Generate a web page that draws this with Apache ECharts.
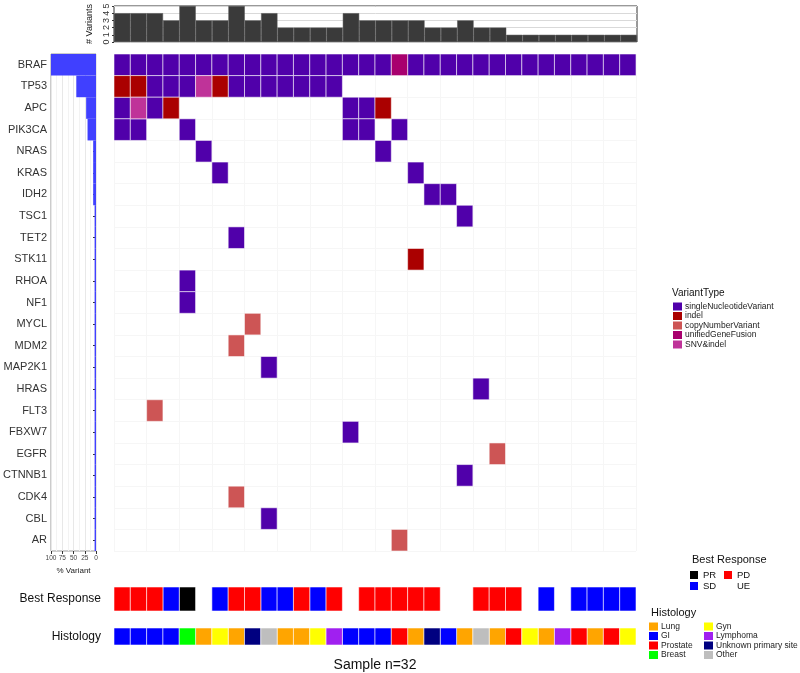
<!DOCTYPE html>
<html>
<head>
<meta charset="utf-8">
<script src="https://cdn.jsdelivr.net/npm/echarts@6/dist/echarts.min.js"></script>
<style>
  html, body { margin: 0; padding: 0; background: #fff; }
  #main { width: 800px; height: 673px; }
</style>
</head>
<body>
<div id="main"></div>
<script>
// genes, top to bottom
var genes = ['BRAF', 'TP53', 'APC', 'PIK3CA', 'NRAS', 'KRAS', 'IDH2', 'TSC1', 'TET2', 'STK11', 'RHOA', 'NF1',
    'MYCL', 'MDM2', 'MAP2K1', 'HRAS', 'FLT3', 'FBXW7', 'EGFR', 'CTNNB1', 'CDK4', 'CBL', 'AR'];

var variantTypes = ['singleNucleotideVariant', 'indel', 'copyNumberVariant', 'unifiedGeneFusion', 'SNV&indel'];
var variantCodes = ['s', 'i', 'c', 'f', 'x'];
var variantColors = ['#5000AA', '#AA0000', '#CD5555', '#A8006E', '#BF3399'];

// one string per gene, one char per sample (32), groups of 8
var geneRows = [
    'ssssssss ssssssss sfssssss ssssssss', // BRAF
    'iisssxis ssssss.. ........ ........', // TP53
    'sxsi.... ......ss i....... ........', // APC
    'ss..s... ......ss .s...... ........', // PIK3CA
    '.....s.. ........ s....... ........', // NRAS
    '......s. ........ ..s..... ........', // KRAS
    '........ ........ ...ss... ........', // IDH2
    '........ ........ .....s.. ........', // TSC1
    '.......s ........ ........ ........', // TET2
    '........ ........ ..i..... ........', // STK11
    '....s... ........ ........ ........', // RHOA
    '....s... ........ ........ ........', // NF1
    '........ c....... ........ ........', // MYCL
    '.......c ........ ........ ........', // MDM2
    '........ .s...... ........ ........', // MAP2K1
    '........ ........ ......s. ........', // HRAS
    '..c..... ........ ........ ........', // FLT3
    '........ ......s. ........ ........', // FBXW7
    '........ ........ .......c ........', // EGFR
    '........ ........ .....s.. ........', // CTNNB1
    '.......c ........ ........ ........', // CDK4
    '........ .s...... ........ ........', // CBL
    '........ ........ .c...... ........'  // AR
];

var responses = ['PR', 'SD', 'PD', 'UE'];
var responseColors = ['#000000', '#0000FF', '#FF0000', 'rgba(0,0,0,0)'];
var bestResponse = ['PD', 'PD', 'PD', 'SD', 'PR', 'UE', 'SD', 'PD', 'PD', 'SD', 'SD', 'PD', 'SD', 'PD', 'UE', 'PD',
    'PD', 'PD', 'PD', 'PD', 'UE', 'UE', 'PD', 'PD', 'PD', 'UE', 'SD', 'UE', 'SD', 'SD', 'SD', 'SD'];

var histologies = ['Lung', 'GI', 'Prostate', 'Breast', 'Gyn', 'Lymphoma', 'Unknown primary site', 'Other'];
var histologyColors = ['#FFA500', '#0000FF', '#FF0000', '#00FF00', '#FFFF00', '#A020F0', '#000080', '#BEBEBE'];
var histology = ['GI', 'GI', 'GI', 'GI', 'Breast', 'Lung', 'Gyn', 'Lung', 'Unknown primary site', 'Other', 'Lung',
    'Lung', 'Gyn', 'Lymphoma', 'GI', 'GI', 'GI', 'Prostate', 'Lung', 'Unknown primary site', 'GI', 'Lung', 'Other',
    'Lung', 'Prostate', 'Gyn', 'Lung', 'Lymphoma', 'Prostate', 'Lung', 'Prostate', 'Gyn'];

var nSamples = bestResponse.length;
var sampleIds = bestResponse.map(function (d, i) { return 'S' + (i + 1); });

// cells per variant type, counts per sample and per gene
var cells = variantTypes.map(function () { return []; });
var perSample = sampleIds.map(function () { return 0; });
var perGene = genes.map(function () { return 0; });
geneRows.forEach(function (row, g) {
    row.replace(/ /g, '').split('').forEach(function (ch, j) {
        var t = variantCodes.indexOf(ch);
        if (t >= 0) {
            cells[t].push([j, g]);
            perSample[j]++;
            perGene[g]++;
        }
    });
});
var pctVariant = perGene.map(function (c) { return +(c / nSamples * 100).toFixed(1); });

var chart = echarts.init(document.getElementById('main'));

var FONT = 'Liberation Sans, Arial, sans-serif';
var GX = 114, GW = 522;

function cellRender(params, api) {
    var p = api.coord([api.value(0), api.value(1)]);
    var s = api.size([1, 1]);
    return {
        type: 'rect',
        shape: { x: p[0] - s[0] / 2, y: p[1] - s[1] / 2, width: s[0], height: s[1] },
        style: { fill: api.visual('color'), stroke: 'rgba(255,255,255,0.55)', lineWidth: 1 }
    };
}

var series = [];
variantTypes.forEach(function (name, t) {
    series.push({
        name: name, type: 'custom', xAxisIndex: 0, yAxisIndex: 0,
        itemStyle: { color: variantColors[t] },
        renderItem: cellRender, encode: { x: 0, y: 1 }, data: cells[t]
    });
});
responses.forEach(function (name, k) {
    var d = [];
    bestResponse.forEach(function (r, j) { if (r === name && name !== 'UE') d.push([j, 0]); });
    series.push({
        name: name, type: 'custom', xAxisIndex: 1, yAxisIndex: 1,
        itemStyle: { color: responseColors[k] },
        renderItem: cellRender, encode: { x: 0, y: 1 }, data: d
    });
});
histologies.forEach(function (name, k) {
    var d = [];
    histology.forEach(function (h, j) { if (h === name) d.push([j, 0]); });
    series.push({
        name: name, type: 'custom', xAxisIndex: 2, yAxisIndex: 2,
        itemStyle: { color: histologyColors[k] },
        renderItem: cellRender, encode: { x: 0, y: 1 }, data: d
    });
});
series.push({
    type: 'bar', xAxisIndex: 3, yAxisIndex: 3, barWidth: '100%', data: perSample,
    itemStyle: { color: '#3a3a3a', borderColor: '#555', borderWidth: 0.5 }
});
series.push({
    type: 'bar', xAxisIndex: 4, yAxisIndex: 4, barWidth: '100%', data: pctVariant,
    itemStyle: { color: '#4040FF' }
});

var hiddenCat = function (grid, data) {
    return {
        type: 'category', gridIndex: grid, data: data,
        axisLine: { show: false }, axisTick: { show: false }, axisLabel: { show: false }
    };
};

var legendBase = {
    orient: 'vertical', icon: 'rect', itemWidth: 9, itemHeight: 8, itemGap: 0.5,
    textStyle: { fontSize: 8.5, color: '#222', fontFamily: FONT, padding: [0, 0, 0, -2] },
    selectedMode: false
};

var option = {
    animation: false,
    backgroundColor: '#fff',
    textStyle: { fontFamily: FONT },
    title: [
        { text: 'VariantType', left: 667, top: 283, textStyle: { fontSize: 10, fontWeight: 'normal', color: '#111' } },
        { text: 'Best Response', left: 687, top: 549, textStyle: { fontSize: 11, fontWeight: 'normal', color: '#111' } },
        { text: 'Histology', left: 646, top: 602, textStyle: { fontSize: 11, fontWeight: 'normal', color: '#111' } }
    ],
    legend: [
        Object.assign({}, legendBase, { left: 668, top: 297, data: variantTypes }),
        Object.assign({}, legendBase, { left: 685, top: 565, itemWidth: 8, itemGap: 1, data: ['PR', 'SD'],
            textStyle: { fontSize: 9.5, color: '#111', fontFamily: FONT } }),
        Object.assign({}, legendBase, { left: 719, top: 565, itemWidth: 8, itemGap: 1, data: ['PD', 'UE'],
            textStyle: { fontSize: 9.5, color: '#111', fontFamily: FONT } }),
        Object.assign({}, legendBase, { left: 644, top: 617, data: histologies.slice(0, 4) }),
        Object.assign({}, legendBase, { left: 699, top: 617, data: histologies.slice(4) })
    ],
    grid: [
        { left: GX, top: 54, width: GW, height: 497 },
        { left: GX, top: 587, width: GW, height: 24 },
        { left: GX, top: 628, width: GW, height: 23 },
        { left: GX, top: 6, width: GW + 1, height: 36, show: true, borderColor: '#333', borderWidth: 1 },
        { left: 50, top: 54, width: 46, height: 497, show: true, borderColor: '#999', borderWidth: 1 }
    ],
    xAxis: [
        Object.assign(hiddenCat(0, sampleIds), { splitLine: { show: true, lineStyle: { color: '#f6f6f6' } } }),
        hiddenCat(1, sampleIds),
        Object.assign(hiddenCat(2, sampleIds), {
            name: 'Sample n=32', nameLocation: 'middle', nameGap: 13,
            nameTextStyle: { fontSize: 14, color: '#111' }
        }),
        hiddenCat(3, sampleIds),
        {
            type: 'value', gridIndex: 4, inverse: true, min: 0, max: 100, interval: 25,
            axisLine: { show: false },
            axisTick: { show: true, length: 3, lineStyle: { color: '#333' } },
            axisLabel: { fontSize: 6.5, color: '#444', margin: 4 },
            splitLine: { lineStyle: { color: '#e8e8e8' } },
            minorTick: { show: false, splitNumber: 2 },
            minorSplitLine: { show: true, lineStyle: { color: '#f3f3f3' } },
            name: '% Variant', nameLocation: 'middle', nameGap: 15,
            nameTextStyle: { fontSize: 8, color: '#222' }
        }
    ],
    yAxis: [
        Object.assign(hiddenCat(0, genes), { inverse: true, splitLine: { show: true, lineStyle: { color: '#f6f6f6' } } }),
        {
            type: 'category', gridIndex: 1, data: ['Best Response'],
            axisLine: { show: false }, axisTick: { show: false },
            axisLabel: { fontSize: 12, color: '#111', margin: 13 }
        },
        {
            type: 'category', gridIndex: 2, data: ['Histology'],
            axisLine: { show: false }, axisTick: { show: false },
            axisLabel: { fontSize: 12, color: '#111', margin: 13 }
        },
        {
            type: 'value', gridIndex: 3, min: 0, max: 5, interval: 1,
            axisLine: { show: false },
            axisTick: { show: true, length: 2, lineStyle: { color: '#333' } },
            axisLabel: { rotate: 90, fontSize: 9, color: '#333', margin: 3 },
            splitLine: { lineStyle: { color: '#d9d9d9' } },
            name: '# Variants', nameLocation: 'middle', nameGap: 11, nameRotate: 90,
            nameTextStyle: { fontSize: 9, color: '#222' }
        },
        {
            type: 'category', gridIndex: 4, data: genes, inverse: true,
            axisLine: { show: false },
            axisTick: { show: true, length: 3, alignWithLabel: true, lineStyle: { color: '#333' } },
            axisLabel: { fontSize: 11, color: '#333', margin: 4 }
        }
    ],
    series: series
};

chart.setOption(option);
</script>
</body>
</html>
